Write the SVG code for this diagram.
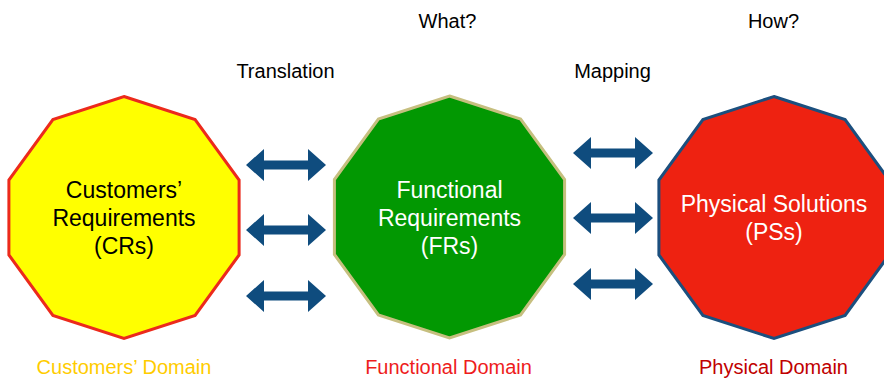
<svg xmlns="http://www.w3.org/2000/svg" xmlns:xlink="http://www.w3.org/1999/xlink" width="884" height="379" viewBox="0 0 884 379">
<style>
  text { font-family: "Liberation Sans", Arial, sans-serif; text-anchor: middle; }
  .lbl { font-size: 20px; fill: #000; }
  .node { font-size: 23px; }
  .dom { font-size: 20px; }
  .arrow { fill: #0F4C7E; }
  .poly { stroke-width: 3; stroke-linejoin: miter; }
</style>
<defs>
  <path id="dbl" d="M-40,0 L-22,-16 L-22,-4.5 L22,-4.5 L22,-16 L40,0 L22,16 L22,4.5 L-22,4.5 L-22,16 Z"/>
</defs>
<rect width="884" height="379" fill="#ffffff"/>

<g id="labels-top">
  <text class="lbl" x="447.5" y="28">What?</text>
  <text class="lbl" x="773.5" y="28">How?</text>
  <text class="lbl" x="285.5" y="78">Translation</text>
  <text class="lbl" x="612.5" y="78">Mapping</text>
</g>

<g id="node-crs">
  <polygon class="poly" fill="#FFFF00" stroke="#EC2A1C" points="124,96.5 195.1,119.6 239.1,180.1 239.1,254.9 195.1,315.4 124,338.5 52.9,315.4 8.9,254.9 8.9,180.1 52.9,119.6"/>
  <text class="node" fill="#000000" x="124" y="198">Customers’</text>
  <text class="node" fill="#000000" x="124" y="226">Requirements</text>
  <text class="node" fill="#000000" x="124" y="254">(CRs)</text>
</g>

<g id="node-frs">
  <polygon class="poly" fill="#029802" stroke="#C6BF7F" points="449.5,96 520.6,119.1 564.6,179.6 564.6,254.4 520.6,314.9 449.5,338 378.4,314.9 334.4,254.4 334.4,179.6 378.4,119.1"/>
  <text class="node" fill="#ffffff" x="449.5" y="198">Functional</text>
  <text class="node" fill="#ffffff" x="449.5" y="226">Requirements</text>
  <text class="node" fill="#ffffff" x="449.5" y="254">(FRs)</text>
</g>

<g id="node-pss">
  <polygon class="poly" fill="#EE2211" stroke="#1B4F7E" points="774,96.5 845.1,119.6 889.1,180.1 889.1,254.9 845.1,315.4 774,338.5 702.9,315.4 658.9,254.9 658.9,180.1 702.9,119.6"/>
  <text class="node" fill="#ffffff" x="774" y="212">Physical Solutions</text>
  <text class="node" fill="#ffffff" x="774" y="240">(PSs)</text>
</g>

<g id="connectors">
  <use href="#dbl" xlink:href="#dbl" class="arrow" transform="translate(286,165)"/>
  <use href="#dbl" xlink:href="#dbl" class="arrow" transform="translate(286,230)"/>
  <use href="#dbl" xlink:href="#dbl" class="arrow" transform="translate(286,296)"/>
  <use href="#dbl" xlink:href="#dbl" class="arrow" transform="translate(613,153)"/>
  <use href="#dbl" xlink:href="#dbl" class="arrow" transform="translate(613,218)"/>
  <use href="#dbl" xlink:href="#dbl" class="arrow" transform="translate(613,284)"/>
</g>

<g id="labels-bottom">
  <text class="dom" fill="#FFCC00" x="124" y="374">Customers’ Domain</text>
  <text class="dom" fill="#EE1C1C" x="448.5" y="374">Functional Domain</text>
  <text class="dom" fill="#C00000" x="773.5" y="374">Physical Domain</text>
</g>
</svg>
